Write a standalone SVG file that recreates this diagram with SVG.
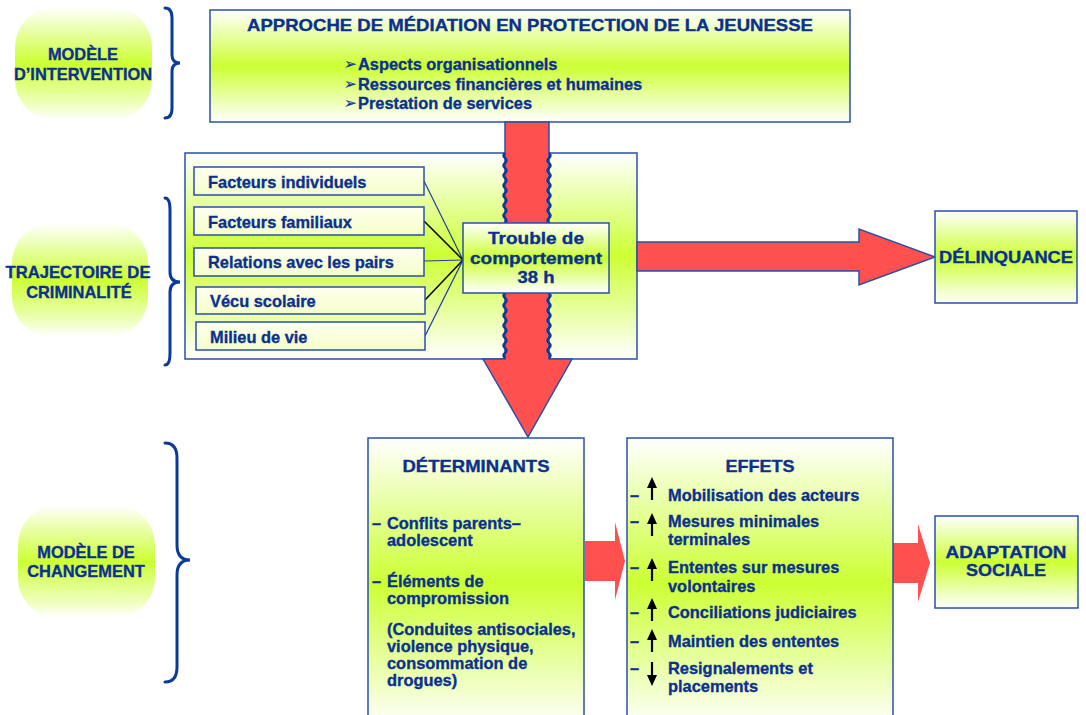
<svg xmlns="http://www.w3.org/2000/svg" width="1086" height="715" viewBox="0 0 1086 715">
<defs>
<linearGradient id="g" x1="0" y1="0" x2="0" y2="1">
<stop offset="0" stop-color="#ffffff"/>
<stop offset="0.5" stop-color="#ccff33"/>
<stop offset="1" stop-color="#ffffff"/>
</linearGradient>
<linearGradient id="gb" x1="0" y1="0" x2="0" y2="1">
<stop offset="0" stop-color="#ffffff"/>
<stop offset="0.5" stop-color="#ccff33"/>
<stop offset="0.85" stop-color="#eeffbb"/>
<stop offset="1" stop-color="#ffffff"/>
</linearGradient>
<linearGradient id="gl" x1="0" y1="0" x2="0" y2="1">
<stop offset="0" stop-color="#fffff0"/>
<stop offset="1" stop-color="#f4ffc8"/>
</linearGradient>
<g id="up"><line x1="0" y1="8" x2="0" y2="23" stroke="#000" stroke-width="2.2"/><polygon points="0,0 -5,11 5,11" fill="#000"/></g>
<g id="down"><line x1="0" y1="0" x2="0" y2="15" stroke="#000" stroke-width="2.2"/><polygon points="0,24 -5,13 5,13" fill="#000"/></g>
</defs>
<style>
text{font-family:"Liberation Sans",Arial,sans-serif;font-weight:bold;fill:#0b318f;stroke:#0b318f;stroke-width:0.35;font-size:16.4px}
.c{text-anchor:middle}
.box{fill:url(#g);stroke:#2850a8;stroke-width:1.5}
.lbox{fill:url(#gl);stroke:#2850a8;stroke-width:1.5}
.blob{fill:url(#gb)}
.brace{fill:none;stroke:#0b3a9a;stroke-width:3;stroke-linecap:round}
.red{fill:#ff5050}
.redo{fill:#ff5050;stroke:#2850a8;stroke-width:1.5}
.wave{fill:none;stroke:#0b3a9a;stroke-width:2.5}
.ln{stroke:#1f3f9f;stroke-width:1.2}
.lk{stroke:#000;stroke-width:1.5}
.bul{font-family:"DejaVu Sans","Noto Sans",sans-serif;font-size:15px;font-weight:normal;stroke-width:0.2}
</style>

<g id="label-intervention">
<rect class="blob" x="15" y="7" width="137" height="113" rx="40"/>
<text class="c" x="83" y="60">MODÈLE</text>
<text class="c" x="83" y="80">D’INTERVENTION</text>
</g>
<g id="label-trajectoire">
<rect class="blob" x="12" y="223" width="136" height="114" rx="40"/>
<text class="c" x="78" y="278" textLength="145" lengthAdjust="spacingAndGlyphs">TRAJECTOIRE DE</text>
<text class="c" x="79" y="298">CRIMINALITÉ</text>
</g>
<g id="label-changement">
<rect class="blob" x="18" y="505" width="137" height="113" rx="40"/>
<text class="c" x="86" y="558">MODÈLE DE</text>
<text class="c" x="86" y="577">CHANGEMENT</text>
</g>

<g id="braces">
<path class="brace" d="M165,8 Q172,8 172,18 L172,55 Q172,63 180,63 Q172,63 172,71 L172,108 Q172,118 165,118"/>
<path class="brace" d="M165,198 Q170,198 170,210 L170,272 Q170,282 180,282 Q170,282 170,292 L170,353 Q170,365 165,365"/>
<path class="brace" d="M165,443 Q177,443 177,458 L177,545 Q177,560 190,560 Q177,560 177,575 L177,667 Q177,682 165,682"/>
</g>

<g id="approche">
<rect class="box" x="210" y="10" width="640" height="112"/>
<text class="c" x="530" y="31" textLength="566" lengthAdjust="spacingAndGlyphs">APPROCHE DE MÉDIATION EN PROTECTION DE LA JEUNESSE</text>
<text class="bul" x="344" y="69">➢</text><text x="358" y="70">Aspects organisationnels</text>
<text class="bul" x="344" y="89">➢</text><text x="358" y="90">Ressources financières et humaines</text>
<text class="bul" x="344" y="108">➢</text><text x="358" y="109">Prestation de services</text>
</g>

<g id="trajectoire">
<rect class="box" x="185" y="153" width="452" height="206"/>
</g>

<g id="connectors">
<path class="redo" d="M505,122 L549,122 L549,359 L572,359 L528,437 L483,359 L505,359 Z"/>
<path class="wave" d="M505,153 q-3,2.5 0,5 t0,5 t0,5 t0,5 t0,5 t0,5 t0,5 t0,5 t0,5 t0,5 t0,5 t0,5 t0,5 t0,5 t0,5 t0,5 t0,5 t0,5 t0,5 t0,5 t0,5 t0,5 t0,5 t0,5 t0,5 t0,5 t0,5 t0,5 t0,5 t0,5 t0,5 t0,5 t0,5 t0,5 t0,5 t0,5 t0,5 t0,5 t0,5 t0,5 t0,5"/>
<path class="wave" d="M549,153 q3,2.5 0,5 t0,5 t0,5 t0,5 t0,5 t0,5 t0,5 t0,5 t0,5 t0,5 t0,5 t0,5 t0,5 t0,5 t0,5 t0,5 t0,5 t0,5 t0,5 t0,5 t0,5 t0,5 t0,5 t0,5 t0,5 t0,5 t0,5 t0,5 t0,5 t0,5 t0,5 t0,5 t0,5 t0,5 t0,5 t0,5 t0,5 t0,5 t0,5 t0,5 t0,5"/>
<path class="redo" d="M637,242 L859,242 L859,229 L935,257 L859,285 L859,271 L637,271 Z"/>
<path class="red" d="M585,541 L615,541 L615,522 L625,561 L615,600 L615,581 L585,581 Z"/>
<path class="red" d="M893,543 L918,543 L918,524 L930,563 L918,602 L918,583 L893,583 Z"/>
<line class="ln" x1="424" y1="181" x2="463" y2="260"/>
<line class="lk" x1="424" y1="221" x2="463" y2="260"/>
<line class="ln" x1="424" y1="261" x2="463" y2="260"/>
<line class="lk" x1="425" y1="300" x2="463" y2="260"/>
<line class="ln" x1="425" y1="336" x2="463" y2="260"/>
</g>

<g id="facteurs-individuels">
<rect class="lbox" x="194" y="167" width="230" height="28"/>
<text x="208" y="188">Facteurs individuels</text>
</g>
<g id="facteurs-familiaux">
<rect class="lbox" x="194" y="207" width="230" height="28"/>
<text x="208" y="228">Facteurs familiaux</text>
</g>
<g id="relations-pairs">
<rect class="lbox" x="194" y="248" width="230" height="28"/>
<text x="208" y="268">Relations avec les pairs</text>
</g>
<g id="vecu-scolaire">
<rect class="lbox" x="196" y="287" width="229" height="27"/>
<text x="210" y="307">Vécu scolaire</text>
</g>
<g id="milieu-vie">
<rect class="lbox" x="196" y="322" width="229" height="28"/>
<text x="210" y="343">Milieu de vie</text>
</g>

<g id="trouble">
<rect class="box" x="463" y="223" width="146" height="70"/>
<text class="c" x="536" y="244" font-size="17" textLength="96" lengthAdjust="spacingAndGlyphs">Trouble de</text>
<text class="c" x="536" y="264" font-size="17" textLength="132" lengthAdjust="spacingAndGlyphs">comportement</text>
<text class="c" x="536" y="283" font-size="17" textLength="37" lengthAdjust="spacingAndGlyphs">38 h</text>
</g>

<g id="delinquance">
<rect class="box" x="935" y="211" width="142" height="92"/>
<text class="c" x="1006" y="263" textLength="134" lengthAdjust="spacingAndGlyphs">DÉLINQUANCE</text>
</g>

<g id="determinants">
<rect class="box" x="368" y="438" width="216" height="290"/>
<text class="c" x="476" y="472" textLength="147" lengthAdjust="spacingAndGlyphs">DÉTERMINANTS</text>
<text x="372" y="529">–</text><text x="387" y="529">Conflits parents–</text>
<text x="387" y="546">adolescent</text>
<text x="372" y="587">–</text><text x="387" y="587">Éléments de</text>
<text x="387" y="604">compromission</text>
<text x="387" y="635">(Conduites antisociales,</text>
<text x="387" y="652">violence physique,</text>
<text x="387" y="669">consommation de</text>
<text x="387" y="686">drogues)</text>
</g>

<g id="effets">
<rect class="box" x="627" y="438" width="266" height="290"/>
<text class="c" x="760" y="472" textLength="69" lengthAdjust="spacingAndGlyphs">EFFETS</text>
<text x="630" y="501">–</text><use href="#up" x="652" y="477"/><text x="668" y="501">Mobilisation des acteurs</text>
<text x="630" y="527">–</text><use href="#up" x="652" y="513"/><text x="668" y="527">Mesures minimales</text>
<text x="668" y="545">terminales</text>
<text x="630" y="573">–</text><use href="#up" x="652" y="558"/><text x="668" y="573">Ententes sur mesures</text>
<text x="668" y="592">volontaires</text>
<text x="630" y="618">–</text><use href="#up" x="652" y="598"/><text x="668" y="618">Conciliations judiciaires</text>
<text x="630" y="647">–</text><use href="#up" x="652" y="629"/><text x="668" y="647">Maintien des ententes</text>
<text x="630" y="674">–</text><use href="#down" x="652" y="662"/><text x="668" y="674">Resignalements et</text>
<text x="668" y="692">placements</text>
</g>

<g id="adaptation">
<rect class="box" x="935" y="516" width="143" height="92"/>
<text class="c" x="1006" y="558" textLength="121" lengthAdjust="spacingAndGlyphs">ADAPTATION</text>
<text class="c" x="1006" y="576" textLength="80" lengthAdjust="spacingAndGlyphs">SOCIALE</text>
</g>
</svg>
